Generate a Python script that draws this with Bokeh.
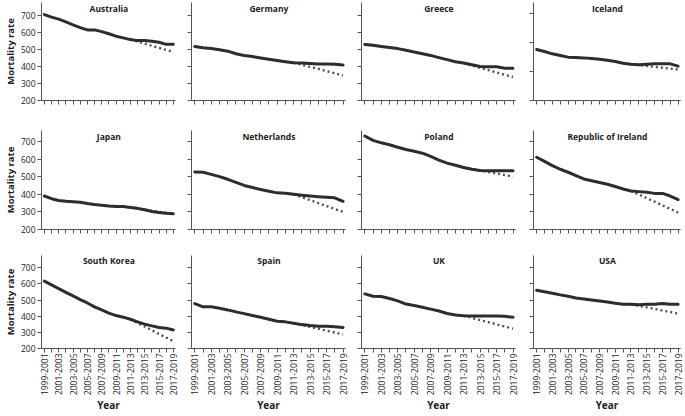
import math
from bokeh.plotting import figure
from bokeh.layouts import column, row
from bokeh.models import Range1d, FixedTicker, Label
from bokeh.embed import file_html
from bokeh.resources import INLINE

periods = ["1999-2001", "2000-2002", "2001-2003", "2002-2004", "2003-2005",
           "2004-2006", "2005-2007", "2006-2008", "2007-2009", "2008-2010",
           "2009-2011", "2010-2012", "2011-2013", "2012-2014", "2013-2015",
           "2014-2016", "2015-2017", "2016-2018", "2017-2019"]

australia = [705, 690, 678, 662, 645, 628, 615, 615, 605, 592, 578, 568, 558, 552, 552, 548, 542, 530, 530]
australia_trend = [558, 546, 534, 522, 509, 497, 485]
germany = [518, 510, 505, 498, 490, 475, 465, 458, 450, 443, 435, 428, 422, 420, 418, 415, 415, 413, 408]
germany_trend = [422, 410, 398, 386, 373, 360, 348]
greece = [529, 525, 518, 512, 505, 495, 485, 475, 465, 452, 440, 428, 420, 410, 400, 398, 398, 390, 390]
greece_trend = [420, 406, 392, 379, 365, 351, 338]
iceland = [552, 538, 522, 510, 499, 496, 494, 490, 485, 477, 469, 457, 450, 446, 450, 453, 453, 453, 437]
iceland_trend = [450, 444, 438, 432, 426, 420, 414]
japan = [390, 375, 365, 360, 358, 355, 348, 342, 338, 333, 330, 330, 325, 320, 312, 302, 297, 292, 290]
japan_trend = [325, 319, 313, 307, 300, 294, 288]
netherlands = [527, 525, 513, 500, 485, 468, 450, 438, 427, 417, 408, 406, 400, 395, 390, 386, 383, 380, 360]
netherlands_trend = [400, 383, 367, 350, 333, 317, 300]
poland = [731, 706, 692, 681, 667, 654, 644, 633, 615, 594, 577, 565, 552, 542, 535, 533, 533, 533, 533]
poland_trend = [552, 544, 535, 526, 518, 509, 500]
ireland = [610, 587, 563, 542, 525, 506, 487, 477, 467, 457, 444, 430, 419, 415, 411, 405, 405, 390, 370]
ireland_trend = [419, 399, 378, 358, 337, 317, 296]
south_korea = [617, 594, 571, 548, 526, 503, 482, 458, 439, 419, 404, 394, 381, 365, 351, 340, 330, 326, 315]
south_korea_trend = [381, 358, 336, 313, 290, 268, 245]
spain = [478, 458, 458, 449, 439, 427, 416, 404, 394, 381, 369, 365, 357, 348, 342, 338, 338, 334, 330]
spain_trend = [357, 345, 334, 322, 310, 299, 287]
uk = [538, 524, 522, 510, 495, 475, 466, 456, 444, 432, 417, 407, 403, 401, 401, 401, 401, 400, 393]
uk_trend = [403, 390, 376, 363, 350, 336, 323]
usa = [561, 552, 542, 532, 523, 513, 507, 500, 494, 488, 480, 474, 474, 471, 474, 474, 478, 474, 474]
usa_trend = [474, 464, 455, 445, 435, 426, 416]

y_ticks = [200, 300, 400, 500, 600, 700]
iceland_ticks = [200, 400, 600, 800]

panels = [
    ("Australia", australia, australia_trend, y_ticks),
    ("Germany", germany, germany_trend, y_ticks),
    ("Greece", greece, greece_trend, y_ticks),
    ("Iceland", iceland, iceland_trend, iceland_ticks),
    ("Japan", japan, japan_trend, y_ticks),
    ("Netherlands", netherlands, netherlands_trend, y_ticks),
    ("Poland", poland, poland_trend, y_ticks),
    ("Republic of Ireland", ireland, ireland_trend, y_ticks),
    ("South Korea", south_korea, south_korea_trend, y_ticks),
    ("Spain", spain, spain_trend, y_ticks),
    ("UK", uk, uk_trend, y_ticks),
    ("USA", usa, usa_trend, y_ticks),
]

FONT = "Open Sans"
AX = "#555555"
TXT = "#222222"

ROW_TOP = [776, 762, 776]
ICELAND_TOP = 876
COL_LEFT = [37, 12, 12, 14]
COL_FRAME = [138, 154, 154, 147]
COL_RIGHT = [4, 4, 4, 4]
ROW_BTOP = [2, 1, 1]
ROW_FRAME = [98, 99, 98]
ROW_BBOT = [29, 25, 62]


def make_panel(k, name, obs, trend, ticks):
    c, r = k % 4, k // 4
    ytop = ICELAND_TOP if name == "Iceland" else ROW_TOP[r]
    p = figure(width=COL_LEFT[c] + COL_FRAME[c] + COL_RIGHT[c],
               height=ROW_BTOP[r] + ROW_FRAME[r] + ROW_BBOT[r],
               output_backend="svg", toolbar_location=None,
               x_range=Range1d(-0.4, len(periods) - 1 + 0.3),
               y_range=Range1d(200, ytop),
               min_border_left=COL_LEFT[c], min_border_right=COL_RIGHT[c],
               min_border_top=ROW_BTOP[r], min_border_bottom=ROW_BBOT[r])
    p.xgrid.visible = False
    p.ygrid.visible = False
    p.outline_line_color = None
    p.background_fill_color = "white"

    xs = list(range(len(periods)))
    xt = xs[len(periods) - len(trend):]
    p.line(xt, trend, line_width=2.4, line_dash="2 3", color="#505050")
    p.line(xs, obs, line_width=3, color="#2d2d2d", line_join="round", line_cap="round")

    for ax in (p.xaxis[0], p.yaxis[0]):
        ax.axis_line_color = AX
        ax.major_tick_line_color = AX
        ax.major_tick_in = 0
        ax.major_tick_out = 4
        ax.minor_tick_line_color = AX
        ax.minor_tick_in = 0
        ax.minor_tick_out = 4
        ax.major_label_text_font = FONT
        ax.major_label_text_font_size = "8.5px"
        ax.major_label_text_color = TXT
        ax.major_label_standoff = 2
        ax.axis_label_text_font = FONT
        ax.axis_label_text_font_style = "bold"
        ax.axis_label_text_color = TXT
        ax.axis_label_standoff = 2

    even = [i for i in xs if i % 2 == 0]
    odd = [i for i in xs if i % 2 == 1]
    if r == 2:
        p.xaxis.ticker = FixedTicker(ticks=even, minor_ticks=odd)
        p.xaxis.major_label_overrides = {i: periods[i] for i in even}
        p.xaxis.major_label_orientation = math.pi / 2
        p.xaxis.major_label_standoff = 1
        p.xaxis.axis_label = "Year"
        p.xaxis.axis_label_text_font_size = "10px"
        p.xaxis.axis_label_standoff = 0
    else:
        p.xaxis.ticker = FixedTicker(ticks=[], minor_ticks=xs)

    if c == 0:
        p.yaxis.ticker = FixedTicker(ticks=ticks)
        p.yaxis.axis_label = "Mortality rate"
        p.yaxis.axis_label_text_font_size = "9.5px"
        p.yaxis.axis_label_standoff = 1
    else:
        p.yaxis.ticker = FixedTicker(ticks=[], minor_ticks=ticks)

    px_per = (ytop - 200) / ROW_FRAME[r]
    p.add_layout(Label(x=(len(periods) - 1) / 2, y=ytop - 5.5 * px_per, text=name,
                       text_align="center", text_baseline="middle",
                       text_font=FONT, text_font_size="8.5px",
                       text_font_style="bold", text_color=TXT))
    return p


figs = [make_panel(k, *pn) for k, pn in enumerate(panels)]
layout = column(row(*figs[0:4], spacing=0), row(*figs[4:8], spacing=0),
                row(*figs[8:12], spacing=0), spacing=0)

open("out.html", "w").write(file_html(layout, INLINE))
